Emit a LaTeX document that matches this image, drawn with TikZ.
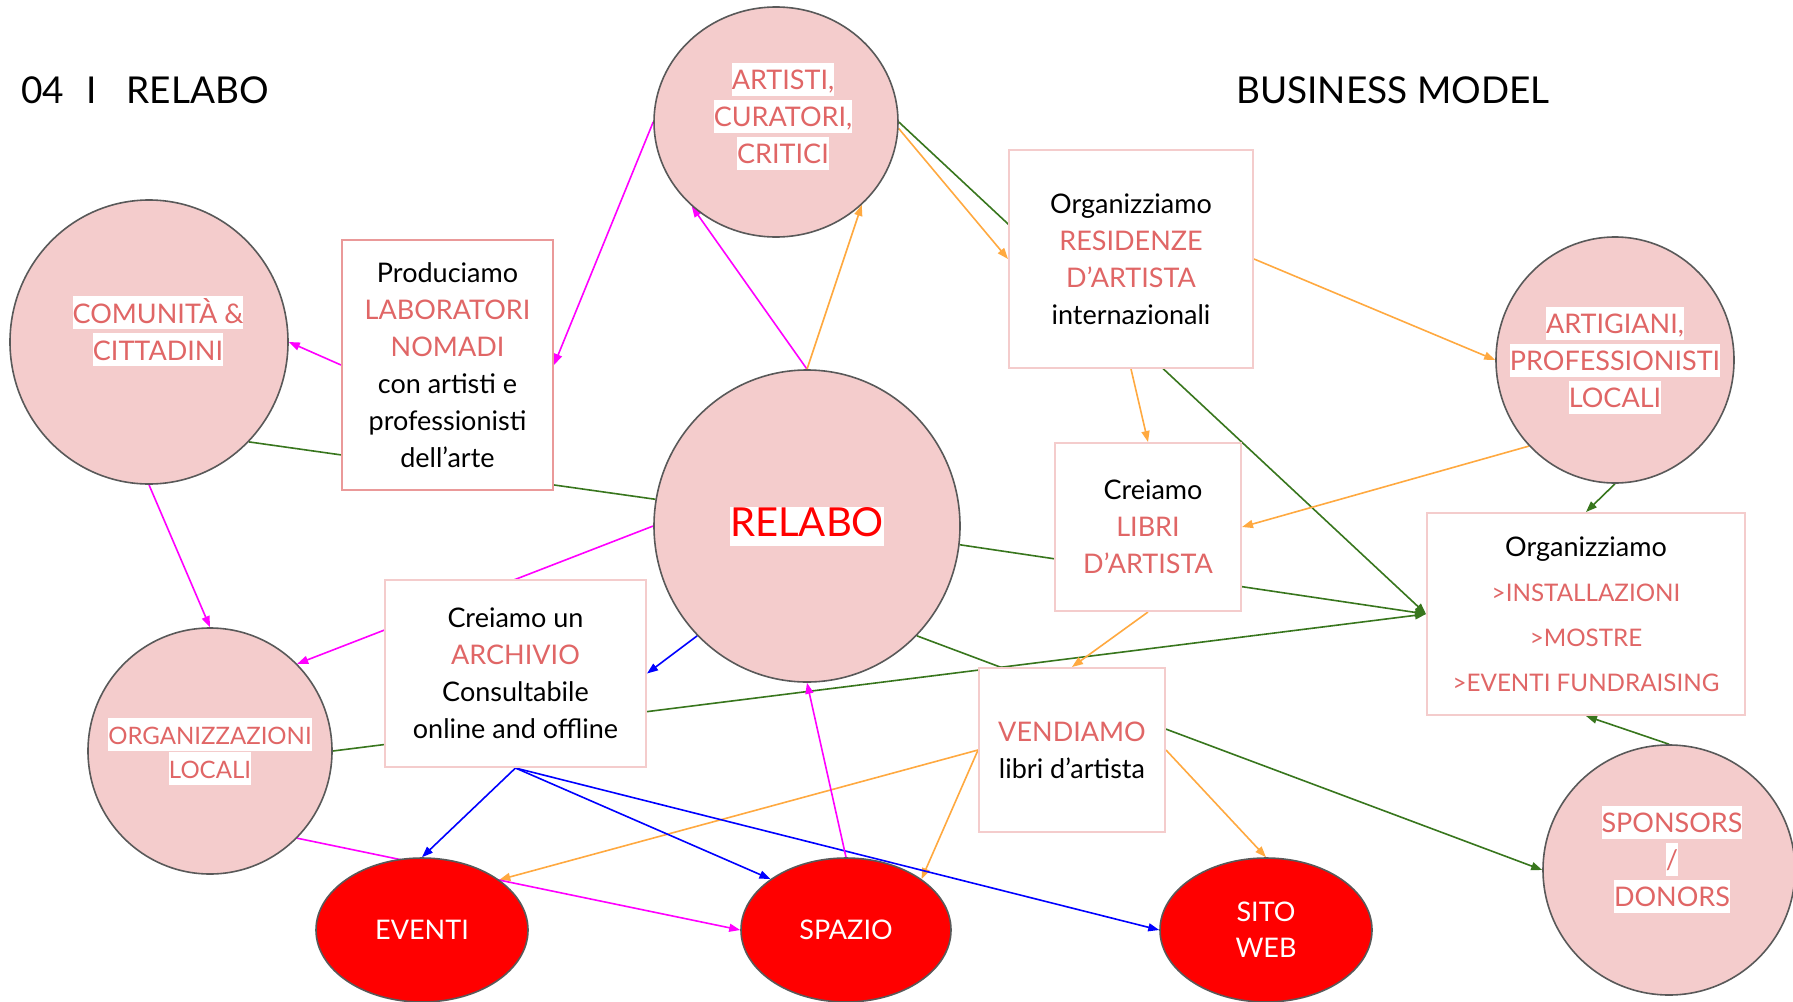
\documentclass[tikz,border=0pt]{standalone}
\usepackage{fontspec}
\setmainfont{Lato}
\usetikzlibrary{shapes.geometric,arrows.meta,backgrounds}
\definecolor{pinkfill}{HTML}{F4CCCC}
\definecolor{pinktxt}{HTML}{E06666}
\definecolor{boxline}{HTML}{F4CCCC}
\definecolor{boxlinedark}{HTML}{EA9999}
\definecolor{rimgray}{HTML}{595959}
\definecolor{cmag}{HTML}{FF00FF}
\definecolor{corange}{HTML}{FFA940}
\definecolor{cgreen}{HTML}{38761D}
\definecolor{cblue}{HTML}{0000FF}
\definecolor{cred}{HTML}{FF0000}
\pgfdeclarelayer{paper}
\pgfsetlayers{paper,background,main}
\newcommand\hlw[1]{{\setlength\fboxsep{0pt}\colorbox{white}{\rule[-6pt]{0pt}{33pt}#1}}}
\newcommand\smallpink[1]{{\fontsize{24.2}{45}\selectfont\textcolor{pinktxt}{#1}}}
\begin{document}
\begin{tikzpicture}[x=1pt,y=-1pt,
  circ/.style={ellipse, draw=rimgray, line width=1.6pt, fill=pinkfill, inner sep=0pt},
  redcirc/.style={ellipse, draw=rimgray, line width=1.6pt, fill=cred, inner sep=0pt},
  ptxt/.style={text=pinktxt, align=center, font=\fontsize{27}{37}\selectfont},
  wtxt/.style={text=white, align=center, font=\fontsize{27}{36}\selectfont},
  tbox/.style={rectangle, draw=boxline, line width=2pt, fill=white, align=center, inner sep=0pt, font=\fontsize{27}{37}\selectfont},
  conn/.style={line width=1.6pt},
  tip/.style={-{Triangle[length=11pt,width=8pt]}},
  mag/.style={conn, cmag, tip},
  org/.style={conn, corange, tip},
  grn/.style={conn, cgreen},
  grna/.style={conn, cgreen, tip},
  blu/.style={conn, cblue, tip},
]
\useasboundingbox (0,0) rectangle (1793,1001);
\begin{pgfonlayer}{paper}
\fill[white] (0,0) rectangle (1793,1001);
\end{pgfonlayer}

% titles
\node[anchor=base west, inner sep=0pt, font=\fontsize{37}{44}\selectfont] (title) at (21,103) {04\hspace{22pt}I\hspace{30pt}RELABO};
\node[anchor=base west, inner sep=0pt, font=\fontsize{37}{44}\selectfont] (bm) at (1236,103) {BUSINESS MODEL};

% ellipses
\node[circ, minimum width=244pt, minimum height=230pt,
  label={[ptxt, xshift=7pt, yshift=6pt]center:{\hlw{ARTISTI,}\\\hlw{CURATORI,}\\\hlw{CRITICI}}}] (artisti) at (776,122) {};
\node[circ, minimum width=278pt, minimum height=284pt,
  label={[ptxt, xshift=9pt, yshift=11pt]center:{\hlw{COMUNITÀ \&}\\\hlw{CITTADINI}}}] (comunita) at (149,342) {};
\node[circ, minimum width=306pt, minimum height=312pt,
  label={[text=cred, font=\fontsize{40}{48}\selectfont]center:{\setlength\fboxsep{0pt}\colorbox{white}{\rule[-9pt]{0pt}{39pt}RELABO}}}] (relabo) at (807,526) {};
\node[circ, minimum width=238pt, minimum height=246pt,
  label={[ptxt]center:{\hlw{ARTIGIANI,}\\\hlw{PROFESSIONISTI}\\\hlw{LOCALI}}}] (artig) at (1615,360) {};
\node[circ, minimum width=244pt, minimum height=246pt,
  label={[ptxt, font=\fontsize{24}{34}\selectfont]center:{\hlw{ORGANIZZAZIONI}\\\hlw{LOCALI}}}] (organ) at (210,751) {};
\node[circ, minimum width=252pt, minimum height=250pt,
  label={[ptxt, yshift=11pt, xshift=3pt]center:{\hlw{SPONSORS}\\\hlw{/}\\\hlw{DONORS}}}] (spons) at (1669,870) {};
\node[redcirc, minimum width=212pt, minimum height=144pt,
  label={[wtxt]center:{EVENTI}}] (eventi) at (422,930) {};
\node[redcirc, minimum width=210pt, minimum height=144pt,
  label={[wtxt]center:{SPAZIO}}] (spazio) at (846,930) {};
\node[redcirc, minimum width=212pt, minimum height=144pt,
  label={[wtxt]center:{SITO\\WEB}}] (sito) at (1266,930) {};

% boxes
\node[tbox, draw=boxlinedark, minimum width=211pt, minimum height=250pt] (prod) at (447.5,365)
  {Produciamo\\\textcolor{pinktxt}{LABORATORI}\\\textcolor{pinktxt}{NOMADI}\\con artisti e\\professionisti\\dell’arte};
\node[tbox, minimum width=244pt, minimum height=218pt] (resid) at (1131,259)
  {Organizziamo\\\textcolor{pinktxt}{RESIDENZE}\\\textcolor{pinktxt}{D’ARTISTA}\\internazionali};
\node[tbox, minimum width=186pt, minimum height=168pt] (libri) at (1148,527)
  {\hspace*{10pt}Creiamo\\\textcolor{pinktxt}{LIBRI}\\\textcolor{pinktxt}{D’ARTISTA}};
\node[tbox, minimum width=318pt, minimum height=202pt, font=\fontsize{27}{45}\selectfont] (instal) at (1586,614)
  {Organizziamo\\\smallpink{>INSTALLAZIONI}\\\smallpink{>MOSTRE}\\\smallpink{>EVENTI FUNDRAISING}};
\node[tbox, minimum width=261pt, minimum height=187pt] (archiv) at (515.5,673.5)
  {Creiamo un\\\textcolor{pinktxt}{ARCHIVIO}\\Consultabile\\online and offline};
\node[tbox, minimum width=186pt, minimum height=164pt] (vend) at (1072,750)
  {\textcolor{pinktxt}{VENDIAMO}\\libri d’artista};

% connectors
\begin{scope}[on background layer]
\draw[mag] (artisti.180) -- (prod.east);
\draw[mag] (relabo.north) -- (artisti.-135);
\draw[org] (relabo.north) -- (artisti.-44);
\draw[mag] (prod.west) -- (comunita.east);
\draw[grn] (comunita.-45) -- (relabo.170);
\draw[mag] (comunita.south) -- (organ.north);
\draw[mag] (relabo.180) -- (organ.45);
\draw[blu] (relabo.-135) -- (archiv.east);
\draw[grna] (organ.east) -- (instal.west);
\draw[grna] (relabo.-45) -- (spons.west);
\draw[grna] (relabo.-7) -- (instal.west);
\draw[grna] (artisti.0) -- (instal.west);
\draw[org] (artisti.-3) -- (resid.west);
\draw[org] (resid.east) -- (artig.west);
\draw[org] (resid.south) -- (libri.north);
\draw[org] (artig.-135) -- (libri.east);
\draw[grna] (artig.south) -- (instal.north);
\draw[org] (libri.south) -- (vend.north);
\draw[grna] (spons.north) -- (instal.south);
\draw[org] (vend.west) -- (eventi.33);
\draw[org] (vend.west) -- (spazio.34);
\draw[org] (vend.east) -- (sito.north);
\draw[blu] (archiv.south) -- (eventi.north);
\draw[blu] (archiv.south) -- (spazio.146);
\draw[blu] (archiv.south) -- (sito.west);
\draw[mag] (spazio.north) -- (relabo.south);
\draw[mag] (organ.-45) -- (spazio.west);
\end{scope}
\end{tikzpicture}
\end{document}
